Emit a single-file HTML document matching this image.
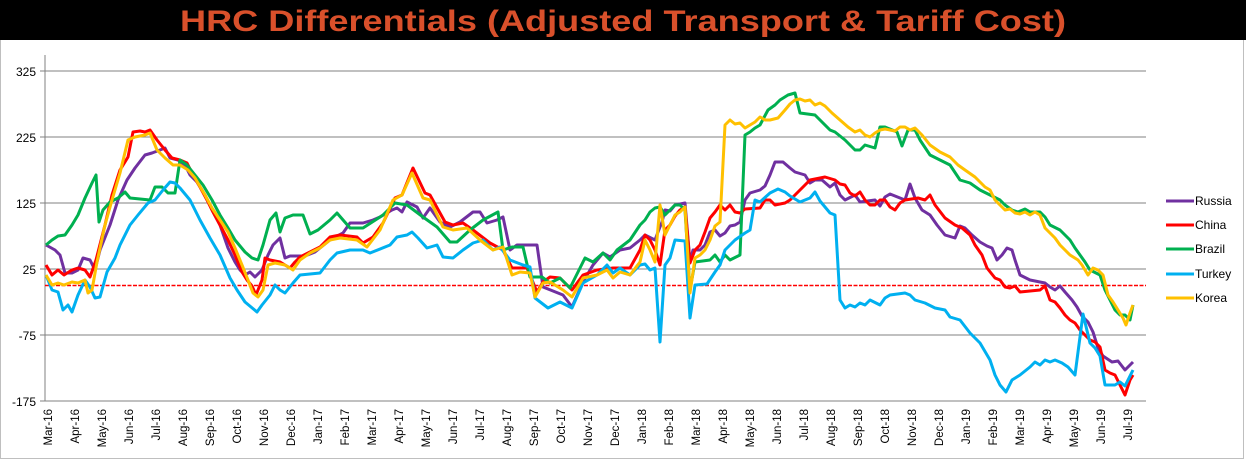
<!DOCTYPE html>
<html><head><meta charset="utf-8"><style>
html,body{margin:0;padding:0;background:#fff;}
svg{display:block;font-family:"Liberation Sans",sans-serif;}
</style></head><body>
<svg width="1246" height="461" viewBox="0 0 1246 461" xmlns="http://www.w3.org/2000/svg">
<rect x="0" y="0" width="1246" height="461" fill="#fff"/>
<rect x="0.5" y="0.5" width="1243" height="458" fill="#fff" stroke="#bfbfbf"/>
<rect x="0" y="0" width="1246" height="40" fill="#000"/>
<text x="623" y="31" text-anchor="middle" font-size="30" font-weight="bold" fill="#d9502b" textLength="886" lengthAdjust="spacingAndGlyphs">HRC Differentials (Adjusted Transport &amp; Tariff Cost)</text>
<g stroke="#808080" stroke-width="1">
<line x1="40" y1="71" x2="1146" y2="71"/>
<line x1="40" y1="137" x2="1146" y2="137"/>
<line x1="40" y1="203" x2="1146" y2="203"/>
<line x1="40" y1="269" x2="1146" y2="269"/>
<line x1="40" y1="335" x2="1146" y2="335"/>
<line x1="40" y1="401" x2="1146" y2="401"/>
<line x1="45" y1="55" x2="45" y2="401"/>
</g>
<line x1="45" y1="285.5" x2="1146" y2="285.5" stroke="#ff0000" stroke-width="1.5" stroke-dasharray="4,1.5"/>
<g font-size="12" fill="#000" text-anchor="end">
<text x="36" y="76">325</text><text x="36" y="142">225</text><text x="36" y="208">125</text><text x="36" y="274">25</text><text x="36" y="340">-75</text><text x="36" y="406">-175</text>
</g>
<g fill="none" stroke-width="3" stroke-linejoin="round">
<polyline stroke="#7030a0" points="46,245 55,250 60,255 65,273 72,273 78,270 83,258 90,260 95,270 100,250 110,225 118,200 127,180 135,168 145,155 152,153 160,150 165,148 170,158 178,160 185,165 190,175 197,182 205,195 212,210 220,225 228,248 235,262 240,270 245,275 250,272 255,277 262,270 268,255 273,245 280,238 285,258 290,256 305,256 315,252 330,240 343,233 350,223 363,223 373,220 380,217 392,210 397,208 402,212 407,202 417,207 423,218 430,208 440,222 450,227 460,222 473,212 480,212 487,223 497,220 503,217 510,250 517,245 537,245 543,287 563,295 572,307 583,282 593,265 603,253 610,257 620,250 630,248 640,240 645,235 655,240 658,232 662,222 665,210 670,211 675,205 685,203 690,262 693,250 700,250 705,245 710,232 715,230 720,236 725,233 730,226 735,225 740,222 745,200 750,193 760,190 765,186 770,175 775,162 783,162 790,168 795,172 805,175 810,183 815,180 822,180 830,187 835,183 840,195 845,200 855,195 860,202 875,200 880,206 885,197 890,194 900,198 905,200 910,184 915,198 922,210 930,215 937,225 945,235 955,238 960,226 965,228 972,235 980,242 987,246 992,248 997,260 1002,255 1007,248 1012,250 1015,260 1020,275 1030,280 1045,283 1050,287 1055,290 1060,286 1065,292 1072,300 1077,307 1082,316 1088,322 1093,332 1098,348 1103,356 1112,362 1118,361 1125,370 1133,362"/>
<polyline stroke="#ff0000" points="46,265 52,275 58,270 64,275 72,270 78,268 85,270 90,277 96,260 105,225 112,195 120,170 128,157 133,132 140,131 145,132 150,130 157,140 165,150 172,158 180,160 187,163 193,175 200,187 207,200 212,210 220,225 228,240 235,255 242,272 247,280 252,286 256,295 262,280 265,258 270,260 280,262 290,268 295,262 300,257 310,252 320,247 330,237 340,235 357,237 363,243 373,237 383,223 395,198 402,195 413,168 425,193 430,195 445,222 453,225 463,223 473,230 490,243 503,250 512,268 527,268 537,292 543,282 550,277 560,278 572,290 583,275 597,270 613,268 630,268 640,250 645,235 650,240 655,250 660,265 665,230 670,225 675,216 680,210 685,207 690,263 695,250 700,245 705,232 710,218 715,212 720,205 725,210 730,205 735,212 740,213 745,209 760,208 765,200 770,200 775,205 785,203 790,200 795,195 800,190 805,185 810,180 820,178 825,177 835,180 840,184 845,185 850,193 855,196 860,192 865,200 870,205 875,205 880,200 885,200 890,207 895,210 900,203 905,200 918,198 925,200 930,195 935,205 945,218 955,225 962,228 970,235 975,245 982,255 987,268 995,278 1000,280 1005,287 1010,288 1015,286 1020,292 1030,291 1040,290 1045,286 1050,300 1055,302 1060,308 1065,315 1070,320 1075,323 1080,330 1085,335 1090,340 1095,342 1100,347 1105,370 1110,373 1115,375 1120,385 1125,395 1130,380 1133,375"/>
<polyline stroke="#00b050" points="46,245 52,240 58,236 65,235 72,225 78,215 85,198 92,183 96,175 99,222 103,210 110,202 118,198 125,192 130,198 150,200 155,187 162,187 168,193 175,193 180,160 187,165 195,175 203,185 212,200 220,215 228,228 235,240 245,252 252,258 258,260 263,245 270,220 276,213 280,232 285,218 293,215 303,215 310,234 318,230 330,220 337,213 350,228 363,228 383,215 395,203 407,205 423,217 437,227 450,242 457,242 470,230 483,220 498,212 503,250 512,247 523,247 530,277 542,277 550,283 560,278 570,288 585,258 593,262 603,253 610,260 617,250 630,240 640,225 645,220 650,212 655,208 660,207 665,215 670,210 675,205 680,205 685,210 690,290 695,262 710,260 715,255 720,262 725,255 730,260 740,255 745,135 750,132 755,128 760,125 768,110 775,105 780,100 788,95 795,93 800,113 815,115 820,120 830,130 835,132 845,140 855,150 860,150 865,145 875,148 880,127 885,127 897,132 902,146 908,130 915,130 920,140 930,155 940,160 950,165 960,180 970,183 980,190 990,195 1000,200 1005,205 1012,210 1018,212 1025,209 1030,212 1040,212 1045,217 1050,225 1060,230 1065,235 1070,240 1075,248 1080,255 1085,262 1090,270 1100,275 1105,290 1110,300 1115,310 1120,315 1125,315 1130,320 1133,305"/>
<polyline stroke="#00b0f0" points="46,275 52,290 58,292 63,310 68,305 72,312 78,295 85,280 90,287 95,298 100,297 107,272 115,258 120,245 130,225 138,215 148,203 155,200 163,190 170,182 175,183 180,188 190,200 200,220 210,238 220,255 230,278 237,290 245,302 257,312 262,305 270,295 275,285 280,290 285,293 293,283 300,275 320,273 330,260 337,253 350,250 363,250 370,253 390,245 397,237 407,235 412,232 418,238 427,248 437,245 443,257 453,258 463,250 473,243 483,240 493,250 500,247 510,260 523,265 530,267 535,298 548,308 560,302 572,308 583,283 597,275 607,265 613,273 620,268 630,275 640,265 645,264 650,270 655,268 660,342 665,265 670,258 675,240 685,241 690,318 695,285 707,284 715,272 720,265 725,250 735,240 745,233 750,230 755,200 760,202 770,193 778,189 785,192 790,196 800,202 810,198 815,192 820,201 830,213 835,215 840,300 845,308 850,305 855,307 860,303 865,305 870,300 880,305 885,298 890,295 905,293 910,295 915,300 925,303 935,308 945,310 950,317 960,320 970,333 980,343 990,360 995,375 1000,385 1006,392 1012,380 1020,375 1030,367 1035,362 1040,365 1045,360 1050,362 1055,360 1062,363 1068,367 1075,375 1083,314 1090,343 1095,348 1100,356 1105,385 1115,385 1120,382 1125,386 1133,370"/>
<polyline stroke="#ffc000" points="46,275 52,285 58,283 64,285 72,282 78,283 85,280 88,293 92,290 97,262 105,225 112,200 120,173 128,140 135,137 145,135 150,133 157,150 165,158 173,165 180,165 188,170 195,178 205,195 212,208 220,220 228,232 235,248 242,265 248,280 253,293 258,297 263,290 268,265 275,263 285,265 293,270 300,260 310,253 320,248 330,240 340,238 357,240 367,247 380,230 393,200 402,195 412,173 423,198 430,200 443,227 453,230 467,228 480,240 493,250 503,247 512,275 520,272 530,273 535,297 543,283 550,282 563,290 572,297 583,278 597,275 607,270 613,278 620,272 630,275 640,262 645,240 650,250 655,262 660,205 665,235 670,225 675,215 680,212 685,207 690,293 695,258 700,255 705,250 710,240 715,226 720,222 725,125 730,120 735,124 740,123 745,128 750,125 755,122 760,117 765,120 770,120 778,118 785,110 790,104 795,100 800,99 805,101 810,100 815,105 820,103 825,106 832,113 840,120 848,127 855,132 860,130 865,135 870,137 875,133 880,130 885,129 895,131 900,127 905,127 910,130 915,128 922,135 930,145 940,152 950,157 958,165 965,170 975,177 985,187 990,190 995,200 1000,205 1005,210 1010,209 1015,213 1020,214 1025,212 1030,215 1035,212 1040,215 1045,228 1050,233 1055,238 1060,245 1065,250 1070,255 1078,260 1082,265 1088,275 1093,268 1098,270 1103,275 1108,295 1113,302 1118,310 1123,318 1126,325 1130,313 1133,305"/>
</g>
<g stroke-width="3">
<line x1="1166" y1="201" x2="1194" y2="201" stroke="#7030a0"/>
<line x1="1166" y1="225" x2="1194" y2="225" stroke="#ff0000"/>
<line x1="1166" y1="249" x2="1194" y2="249" stroke="#00b050"/>
<line x1="1166" y1="274" x2="1194" y2="274" stroke="#00b0f0"/>
<line x1="1166" y1="298" x2="1194" y2="298" stroke="#ffc000"/>
</g>
<g font-size="12" fill="#000">
<text x="1195" y="205">Russia</text><text x="1195" y="229">China</text><text x="1195" y="253">Brazil</text><text x="1195" y="278">Turkey</text><text x="1195" y="302">Korea</text>
</g>
<g font-size="11.5" fill="#000" text-anchor="end">
<text transform="translate(52,409) rotate(-90)">Mar-16</text>
<text transform="translate(79,409) rotate(-90)">Apr-16</text>
<text transform="translate(106,409) rotate(-90)">May-16</text>
<text transform="translate(133,409) rotate(-90)">Jun-16</text>
<text transform="translate(160,409) rotate(-90)">Jul-16</text>
<text transform="translate(187,409) rotate(-90)">Aug-16</text>
<text transform="translate(214,409) rotate(-90)">Sep-16</text>
<text transform="translate(241,409) rotate(-90)">Oct-16</text>
<text transform="translate(268,409) rotate(-90)">Nov-16</text>
<text transform="translate(295,409) rotate(-90)">Dec-16</text>
<text transform="translate(322,409) rotate(-90)">Jan-17</text>
<text transform="translate(349,409) rotate(-90)">Feb-17</text>
<text transform="translate(376,409) rotate(-90)">Mar-17</text>
<text transform="translate(403,409) rotate(-90)">Apr-17</text>
<text transform="translate(430,409) rotate(-90)">May-17</text>
<text transform="translate(457,409) rotate(-90)">Jun-17</text>
<text transform="translate(484,409) rotate(-90)">Jul-17</text>
<text transform="translate(511,409) rotate(-90)">Aug-17</text>
<text transform="translate(538,409) rotate(-90)">Sep-17</text>
<text transform="translate(565,409) rotate(-90)">Oct-17</text>
<text transform="translate(592,409) rotate(-90)">Nov-17</text>
<text transform="translate(619,409) rotate(-90)">Dec-17</text>
<text transform="translate(646,409) rotate(-90)">Jan-18</text>
<text transform="translate(673,409) rotate(-90)">Feb-18</text>
<text transform="translate(700,409) rotate(-90)">Mar-18</text>
<text transform="translate(727,409) rotate(-90)">Apr-18</text>
<text transform="translate(754,409) rotate(-90)">May-18</text>
<text transform="translate(781,409) rotate(-90)">Jun-18</text>
<text transform="translate(808,409) rotate(-90)">Jul-18</text>
<text transform="translate(835,409) rotate(-90)">Aug-18</text>
<text transform="translate(862,409) rotate(-90)">Sep-18</text>
<text transform="translate(889,409) rotate(-90)">Oct-18</text>
<text transform="translate(916,409) rotate(-90)">Nov-18</text>
<text transform="translate(943,409) rotate(-90)">Dec-18</text>
<text transform="translate(970,409) rotate(-90)">Jan-19</text>
<text transform="translate(997,409) rotate(-90)">Feb-19</text>
<text transform="translate(1024,409) rotate(-90)">Mar-19</text>
<text transform="translate(1051,409) rotate(-90)">Apr-19</text>
<text transform="translate(1078,409) rotate(-90)">May-19</text>
<text transform="translate(1105,409) rotate(-90)">Jun-19</text>
<text transform="translate(1132,409) rotate(-90)">Jul-19</text>
</g>
</svg>
</body></html>
